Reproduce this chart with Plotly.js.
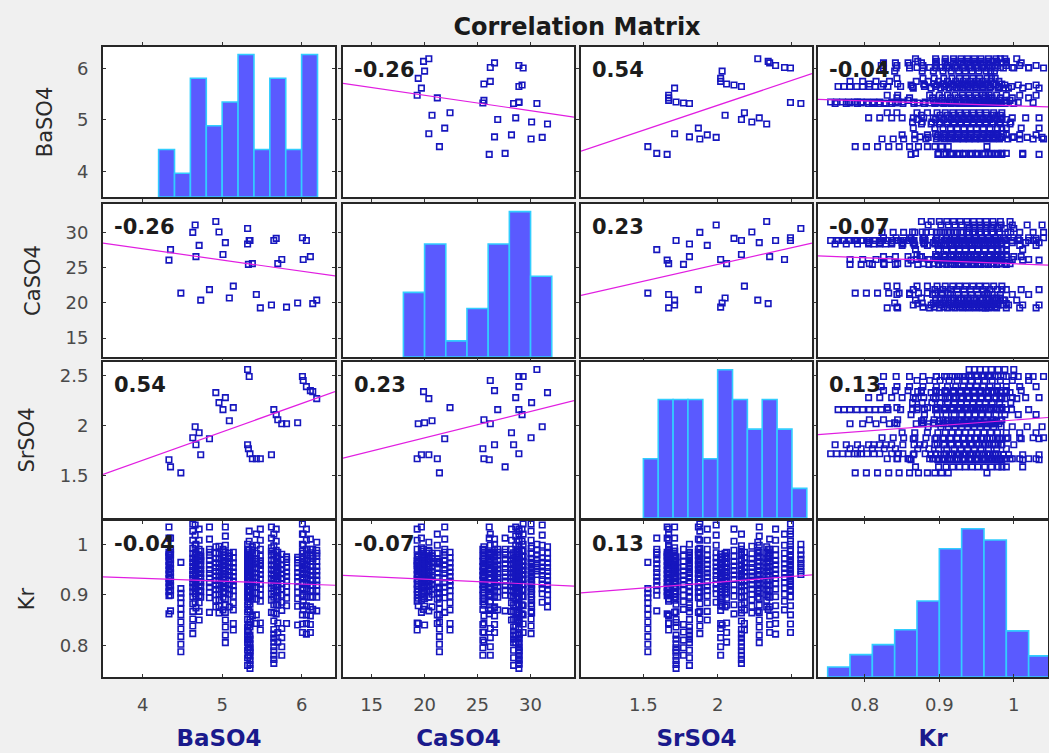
<!DOCTYPE html>
<html>
<head>
<meta charset="utf-8">
<script src="https://cdn.plot.ly/plotly-3.0.1.min.js"></script>
<style>
html,body{margin:0;padding:0;background:#f0f0f0;}
#chart{width:1049px;height:753px;}
</style>
</head>
<body>
<div id="chart"></div>
<script>
// ---------------- DATA ----------------
const varNames = ['BaSO4', 'CaSO4', 'SrSO4', 'Kr'];

// one entry per brine composition
const baso4 = [4.33,4.35,4.48,4.63,4.66,4.67,4.71,4.73,4.84,4.92,4.96,5.01,5.04,5.09,5.14,5.32,5.34,5.32,5.33,5.35,5.38,5.43,5.48,5.62,5.65,5.68,5.70,5.75,5.81,5.95,6.01,6.02,6.06,6.11,6.14,6.19];
const caso4 = [26.1,27.6,21.4,30.05,31.1,26.6,28.2,20.4,21.9,31.6,30.1,26.9,28.6,20.7,22.4,30.6,28.9,28.4,25.5,28.9,25.6,21.2,19.3,19.7,28.9,29.2,25.6,26.2,19.4,20.0,29.3,26.2,28.9,26.6,19.9,20.4];
const srso4 = [1.66,1.59,1.53,1.88,1.99,1.81,1.93,1.71,1.87,2.33,2.23,2.16,2.28,2.05,2.18,2.56,2.49,1.81,1.77,1.72,1.67,1.67,1.67,1.71,2.16,2.11,2.06,2.02,2.02,2.03,2.49,2.45,2.39,2.35,2.34,2.27];

// Kr measurements recorded for each composition (same order as above)
const krRuns = [
  [1.034,1.012,0.984,0.979,0.975,0.966,0.958,0.949,0.941,0.932,0.924,0.915,0.906,0.898,0.862],
  [1.012,0.99,0.984,0.979,0.97,0.961,0.952,0.944,0.935,0.927,0.918,0.909,0.899,0.868],
  [0.964,0.912,0.903,0.894,0.884,0.872,0.86,0.846,0.832,0.817,0.802,0.787],
  [1.04,1.026,1.008,0.992,0.981,0.972,0.964,0.956,0.948,0.94,0.932,0.924,0.915,0.906,0.896,0.882,0.867,0.852,0.838,0.823],
  [1.038,1.018,0.998,0.983,0.973,0.964,0.955,0.947,0.938,0.93,0.921,0.912,0.902,0.885],
  [1.0,0.984,0.979,0.975,0.967,0.958,0.95,0.942,0.933,0.925,0.916,0.907,0.897,0.874],
  [1.03,1.008,0.99,0.978,0.969,0.96,0.951,0.943,0.935,0.926,0.917,0.908,0.898,0.884,0.867,0.85],
  [0.986,0.976,0.972,0.967,0.958,0.95,0.942,0.933,0.925,0.916,0.906,0.895],
  [1.034,1.01,0.99,0.984,0.978,0.968,0.959,0.95,0.942,0.933,0.924,0.915,0.905,0.894,0.865],
  [0.995,0.982,0.972,0.963,0.954,0.946,0.937,0.928,0.919,0.91,0.9,0.889,0.876],
  [0.996,0.981,0.971,0.962,0.954,0.945,0.937,0.929,0.92,0.911,0.901,0.89,0.877,0.864],
  [0.99,0.984,0.978,0.968,0.959,0.951,0.942,0.934,0.925,0.916,0.906,0.895,0.87],
  [1.034,1.016,0.998,0.984,0.974,0.965,0.957,0.948,0.94,0.931,0.922,0.913,0.903,0.892,0.879,0.865,0.85,0.836,0.82,0.805],
  [0.982,0.977,0.972,0.963,0.955,0.946,0.938,0.929,0.92,0.911,0.901,0.876],
  [0.984,0.973,0.963,0.954,0.945,0.936,0.927,0.918,0.908,0.897,0.884,0.87,0.843,0.83],
  [1.0,0.988,0.979,0.97,0.962,0.955,0.947,0.94],
  [1.026,1.006,0.99,0.979,0.969,0.96,0.951,0.943,0.935,0.926,0.917,0.907,0.896],
  [0.983,0.972,0.962,0.953,0.944,0.935,0.926,0.916,0.906,0.894,0.88,0.866,0.851,0.836,0.828,0.82,0.812,0.805,0.79,0.775,0.76],
  [0.99,0.977,0.966,0.956,0.947,0.938,0.929,0.92,0.91,0.899,0.886,0.871,0.841,0.826,0.81,0.795,0.78],
  [0.975,0.964,0.954,0.945,0.936,0.927,0.917,0.907,0.895,0.881,0.866,0.851,0.845,0.836,0.82,0.812,0.803,0.795,0.79,0.786,0.778,0.77,0.762,0.754],
  [0.995,0.988,0.981,0.97,0.961,0.952,0.943,0.934,0.925,0.915,0.904,0.892,0.858],
  [1.02,0.998,0.982,0.971,0.966,0.961,0.952,0.943,0.934,0.925,0.915,0.904,0.891,0.86,0.843],
  [1.03,1.008,0.99,0.977,0.967,0.962,0.958,0.949,0.94,0.931,0.921,0.911,0.9,0.887,0.844,0.83],
  [1.034,1.012,0.993,0.986,0.979,0.968,0.959,0.95,0.941,0.932,0.923,0.913,0.902,0.889,0.865],
  [1.02,0.997,0.981,0.969,0.958,0.948,0.938,0.928,0.918,0.907,0.895,0.88,0.864,0.848,0.831,0.822,0.814,0.806,0.797,0.789,0.78,0.772,0.764],
  [1.03,1.006,0.988,0.976,0.966,0.957,0.948,0.939,0.93,0.92,0.909,0.897,0.88,0.862],
  [0.984,0.972,0.962,0.953,0.944,0.935,0.926,0.916,0.905,0.893,0.879,0.844,0.825,0.806],
  [0.98,0.969,0.959,0.95,0.941,0.932,0.922,0.911,0.899,0.885,0.869,0.833,0.815,0.797,0.78],
  [0.975,0.97,0.964,0.954,0.945,0.936,0.927,0.917,0.906,0.893,0.878,0.843],
  [0.974,0.969,0.963,0.953,0.944,0.935,0.926,0.916,0.905,0.892,0.877,0.84],
  [1.04,1.02,1.0,0.986,0.975,0.966,0.957,0.949,0.94,0.931,0.921,0.91,0.896,0.878,0.86,0.842,0.825],
  [1.02,0.998,0.982,0.971,0.961,0.952,0.943,0.934,0.924,0.913,0.901,0.887,0.87],
  [1.03,1.008,0.99,0.978,0.968,0.959,0.95,0.941,0.932,0.922,0.911,0.896,0.878,0.86,0.843,0.822],
  [1.01,0.99,0.983,0.977,0.966,0.956,0.947,0.938,0.929,0.919,0.908,0.895,0.876,0.858,0.841,0.825],
  [0.99,0.977,0.972,0.966,0.956,0.947,0.938,0.929,0.919,0.908,0.896,0.871],
  [1.004,0.988,0.982,0.976,0.966,0.956,0.947,0.938,0.929,0.919,0.908,0.895,0.868]
];

// correlation coefficients printed in the panels
const corrValues = [
  [1, -0.26, 0.54, -0.04],
  [-0.26, 1, 0.23, -0.07],
  [0.54, 0.23, 1, 0.13],
  [-0.04, -0.07, 0.13, 1]
];

// tick labels
const tickVals = [[4,5,6],[15,20,25,30],[1.5,2,2.5],[0.8,0.9,1]];
const yTickText = [['4','5','6'],['15','20','25','30'],['1.5','2','2.5'],['0.8','0.9','1']];
const xTickText = [['4','5','6'],['15','20','25','30'],['1.5','2',''],['0.8','0.9','1']];

// ---------------- LAYOUT CONSTANTS ----------------
const W = 1049, H = 753;
const colPx = [[103,335],[343,574],[581,812],[818,1048]];
const rowPx = [[47,197],[204,357],[362,518],[521,677]];
const axisRanges = [[3.5,6.42],[12.3,34.1],[1.08,2.635],[0.737,1.046]];
const histBins = [
  {start:4.2, end:6.2, size:0.2},
  {start:18, end:32, size:2},
  {start:1.5, end:2.6, size:0.1},
  {start:0.75, end:1.05, size:0.03}
];
const FONT = 'DejaVu Sans, Arial, sans-serif';
const markerColor = 'rgb(22,22,190)';
const fitColor = 'rgb(225,30,225)';
const barColor = 'rgb(90,90,255)';
const barEdge = 'rgb(50,205,255)';

// ---------------- BUILD ----------------
const longBa = [], longCa = [], longSr = [], longKr = [];
krRuns.forEach((run, i) => run.forEach(k => {
  longBa.push(baso4[i]); longCa.push(caso4[i]); longSr.push(srso4[i]); longKr.push(k);
}));
const compVars = [baso4, caso4, srso4];
const longVars = [longBa, longCa, longSr, longKr];

const axX = j => j === 0 ? 'x' : 'x' + (j + 1);
const axY = i => i === 0 ? 'y' : 'y' + (i + 1);

function linfit(xs, ys) {
  const n = xs.length;
  let mx = 0, my = 0;
  for (let k = 0; k < n; k++) { mx += xs[k]; my += ys[k]; }
  mx /= n; my /= n;
  let sxy = 0, sxx = 0;
  for (let k = 0; k < n; k++) { sxy += (xs[k]-mx)*(ys[k]-my); sxx += (xs[k]-mx)*(xs[k]-mx); }
  const b = sxy / sxx;
  return {a: my - b*mx, b: b};
}

const traces = [];
const annotations = [];
for (let i = 0; i < 4; i++) {
  for (let j = 0; j < 4; j++) {
    if (i === j) {
      traces.push({type:'scatter', mode:'markers', x:[], y:[], xaxis:axX(j), yaxis:axY(i),
        showlegend:false, hoverinfo:'skip'});
      const hx = i === 3 ? longKr : compVars[i];
      traces.push({type:'histogram', x:hx, xaxis:axX(j), yaxis:'y' + (5 + i),
        xbins:histBins[i], autobinx:false,
        marker:{color:barColor, line:{color:barEdge, width:1.6}},
        showlegend:false});
    } else {
      const useLong = (i === 3 || j === 3);
      const xs = useLong ? longVars[j] : compVars[j];
      const ys = useLong ? longVars[i] : compVars[i];
      traces.push({type:'scatter', mode:'markers', x:xs, y:ys, xaxis:axX(j), yaxis:axY(i),
        marker:{symbol:'square-open', size:5.5, color:markerColor, line:{width:1.6, color:markerColor}},
        showlegend:false, cliponaxis:true});
      const f = linfit(xs, ys);
      const xr = axisRanges[j];
      traces.push({type:'scatter', mode:'lines', x:[xr[0], xr[1]], y:[f.a + f.b*xr[0], f.a + f.b*xr[1]],
        xaxis:axX(j), yaxis:axY(i), line:{color:fitColor, width:1.2}, showlegend:false, hoverinfo:'skip'});
      annotations.push({xref:axX(j) + ' domain', yref:axY(i) + ' domain',
        x: 9/231, y: 1 - 23/(rowPx[i][1]-rowPx[i][0]), xanchor:'left', yanchor:'middle',
        text:'<b>' + corrValues[i][j].toFixed(2) + '</b>', showarrow:false,
        font:{family:FONT, size:21, color:'#1c1c1c'}});
    }
  }
}

const layout = {
  width: W, height: H,
  margin: {l:0, r:0, t:0, b:0},
  paper_bgcolor: '#f0f0f0',
  plot_bgcolor: '#ffffff',
  showlegend: false,
  bargap: 0,
  title: {text:'<b>Correlation Matrix</b>', x:577/W, xref:'paper', xanchor:'center',
          y:1 - 27/H, yref:'paper', yanchor:'middle',
          font:{family:FONT, size:24, color:'#1a1a1a'}},
  annotations: annotations
};

for (let j = 0; j < 4; j++) {
  layout['xaxis' + (j === 0 ? '' : j + 1)] = {
    domain:[colPx[j][0]/W, colPx[j][1]/W], anchor:'y4', range:axisRanges[j],
    tickmode:'array', tickvals:tickVals[j], ticktext:xTickText[j],
    ticks:'inside', ticklen:3, tickwidth:1, tickcolor:'#333333',
    showline:true, linecolor:'#262626', linewidth:2, mirror:'allticks',
    showgrid:false, zeroline:false, automargin:false, fixedrange:true,
    ticklabelstandoff:10,
    tickfont:{family:FONT, size:18, color:'#4a4a4a'},
    title:{text:'<b>' + varNames[j] + '</b>', standoff:16,
           font:{family:FONT, size:23, color:'#1a1a8c'}}
  };
}
for (let i = 0; i < 4; i++) {
  layout['yaxis' + (i === 0 ? '' : i + 1)] = {
    domain:[1 - rowPx[i][1]/H, 1 - rowPx[i][0]/H], anchor:'x', range:axisRanges[i],
    tickmode:'array', tickvals:tickVals[i], ticktext:yTickText[i],
    ticks:'inside', ticklen:3, tickwidth:1, tickcolor:'#333333',
    showline:true, linecolor:'#262626', linewidth:2, mirror:'allticks',
    showgrid:false, zeroline:false, automargin:false, fixedrange:true,
    ticklabelstandoff:9,
    tickfont:{family:FONT, size:18, color:'#4a4a4a'},
    title:{text:varNames[i], standoff:19, font:{family:FONT, size:21, color:'#2a2a2a'}}
  };
  layout['yaxis' + (5 + i)] = {
    overlaying: axY(i), anchor: axX(i), visible:false,
    autorange:true, rangemode:'tozero', showgrid:false, zeroline:false, fixedrange:true
  };
}

Plotly.newPlot('chart', traces, layout, {displayModeBar:false, staticPlot:true});
</script>
</body>
</html>
